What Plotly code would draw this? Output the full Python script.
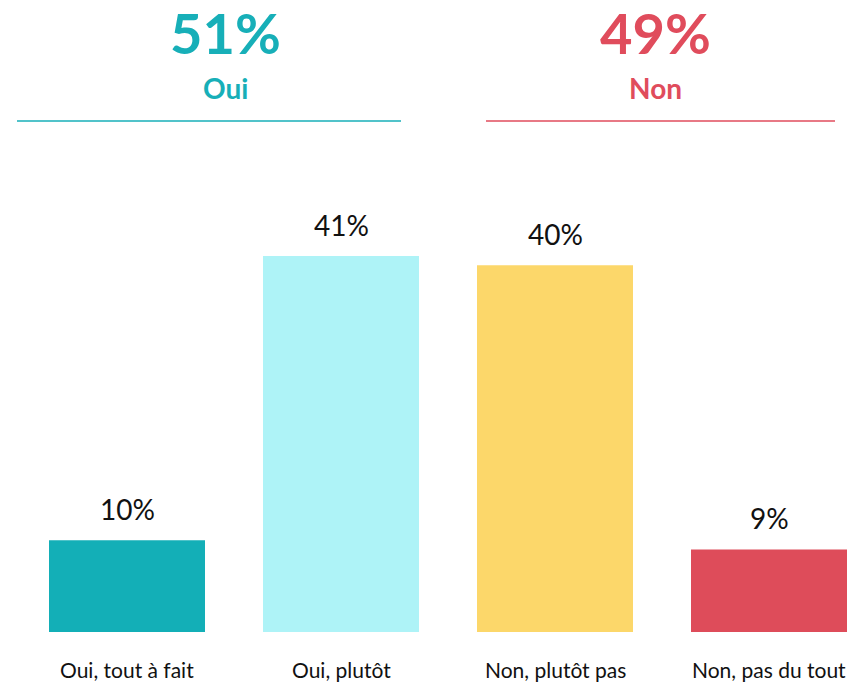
import plotly.graph_objects as go

# ---- data ----
categories = ["Oui, tout à fait", "Oui, plutôt", "Non, plutôt pas", "Non, pas du tout"]
values = [10, 41, 40, 9]
bar_colors = ["#13AFB7", "#AEF3F7", "#FCD76A", "#DE4C5A"]
group_labels = ["Oui", "Non"]
group_members = [[0, 1], [2, 3]]
group_colors = ["#17AFB8", "#E04C5C"]

# ---- layout geometry (pixels) ----
W, H = 851, 683
base_px = 632           # baseline of bars
px_per_unit = 9.17      # pixels per percent
cat_step = 214          # pixels between category centers
first_center = 127      # pixel x of first category center

x0 = -(first_center / cat_step)
x1 = x0 + W / cat_step
y1 = base_px / px_per_unit

def px_x(p):
    return p / W

def px_y(p):
    return (base_px - p) / base_px

FONT = "Lato"

fig = go.Figure()
fig.add_trace(go.Bar(
    x=list(range(len(categories))),
    y=values,
    marker=dict(color=bar_colors, line=dict(width=0)),
    width=156 / cat_step,
    hoverinfo="skip",
))

annotations = []
for i, (c, v) in enumerate(zip(categories, values)):
    annotations.append(dict(
        x=i, y=v, xref="x", yref="y", text=f"{v}%", showarrow=False,
        yanchor="bottom", yshift=12,
        font=dict(family=FONT, size=28, color="#111111"),
    ))
    annotations.append(dict(
        x=i, y=0, xref="x", yref="y", text=c, showarrow=False,
        yanchor="top", yshift=-23,
        font=dict(family=FONT, size=21, color="#111111"),
    ))

header_centers = [225, 655]
line_spans = [(17, 401), (486, 835)]
shapes = []
for g, (lab, mem, col) in enumerate(zip(group_labels, group_members, group_colors)):
    total = sum(values[m] for m in mem)
    annotations.append(dict(
        x=px_x(header_centers[g]), y=px_y(33), xref="paper", yref="paper",
        text=f"<b>{total}%</b>", showarrow=False, xanchor="center", yanchor="middle",
        font=dict(family=FONT, size=56, color=col),
    ))
    annotations.append(dict(
        x=px_x(header_centers[g]), y=px_y(88), xref="paper", yref="paper",
        text=f"<b>{lab}</b>", showarrow=False, xanchor="center", yanchor="middle",
        font=dict(family=FONT, size=28, color=col),
    ))
    a, b = line_spans[g]
    shapes.append(dict(
        type="line", xref="paper", yref="paper",
        x0=px_x(a), x1=px_x(b), y0=px_y(121), y1=px_y(121),
        line=dict(color=col, width=1.5),
    ))

fig.update_layout(
    width=W, height=H,
    margin=dict(l=0, r=0, t=0, b=H - base_px),
    paper_bgcolor="white", plot_bgcolor="white",
    showlegend=False,
    xaxis=dict(range=[x0, x1], visible=False, fixedrange=True),
    yaxis=dict(range=[0, y1], visible=False, fixedrange=True),
    annotations=annotations,
    shapes=shapes,
)

fig.write_html("out.html")
